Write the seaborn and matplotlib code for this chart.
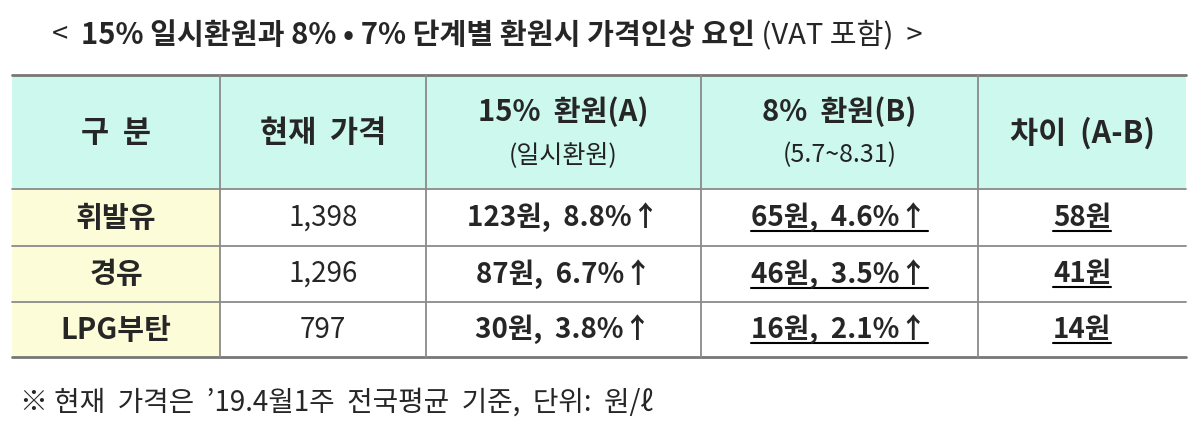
import matplotlib
matplotlib.use("Agg")
import matplotlib.pyplot as plt
import seaborn as sns

sns.set_theme(style="white")
plt.rcParams['font.family'] = ['Noto Sans CJK KR', 'DejaVu Sans']

# data
headers = ["구  분", "현재  가격", "15%  환원(A)", "8%  환원(B)", "차이  (A-B)"]
sub_headers = ["", "", "(일시환원)", "(5.7~8.31)", ""]
fuels = ["휘발유", "경유", "LPG부탄"]
prices = ["1,398", "1,296", "797"]
cut_a = ["123원,  8.8%↑", "87원,  6.7%↑", "30원,  3.8%↑"]
cut_b = ["65원,  4.6%↑", "46원,  3.5%↑", "16원,  2.1%↑"]
diff = ["58원", "41원", "14원"]

W, H = 1199, 433
fig = plt.figure(figsize=(W / 100, H / 100), dpi=100)
ax = fig.add_axes([0, 0, 1, 1])
ax.set_xlim(0, W)
ax.set_ylim(H, 0)
ax.axis("off")

xs = [12, 220, 426, 701, 978, 1186]
ys = [75, 189, 246, 302, 357]
head_bg = "#cdf8ee"
first_bg = "#fdfcd9"
line_c = "#8a8a8a"

ax.fill_between([xs[0], xs[-1]], ys[0], ys[1], color=head_bg, lw=0)
ax.fill_between([xs[0], xs[1]], ys[1], ys[-1], color=first_bg, lw=0)
for y in ys:
    lw = 2 if y in (ys[0], ys[-1]) else 1.3
    ax.plot([xs[0], xs[-1]], [y, y], color=line_c if lw < 2 else "#777777", lw=lw)
for x in xs[1:-1]:
    ax.plot([x, x], [ys[0], ys[-1]], color=line_c, lw=1.3)

fig.canvas.draw()
rend = fig.canvas.get_renderer()


def underline(t):
    bb = t.get_window_extent(rend).transformed(ax.transData.inverted())
    y = max(bb.y0, bb.y1) - 1
    ax.plot([bb.x0, bb.x1], [y, y], color="black", lw=1.5)


# header
for i, h in enumerate(headers):
    cx = (xs[i] + xs[i + 1]) / 2
    if sub_headers[i]:
        ax.text(cx, 112, h, ha="center", va="center", fontsize=21, fontweight="bold")
        ax.text(cx, 155, sub_headers[i], ha="center", va="center", fontsize=18, color="#222222")
    else:
        ax.text(cx, 133, h, ha="center", va="center", fontsize=22, fontweight="bold")

# body
cols = [fuels, prices, cut_a, cut_b, diff]
for r in range(len(fuels)):
    cy = (ys[r + 1] + ys[r + 2]) / 2
    for c, col in enumerate(cols):
        cx = (xs[c] + xs[c + 1]) / 2
        bold = c != 1
        t = ax.text(cx, cy, col[r], ha="center", va="center",
                    fontsize=21 if c == 0 else 20,
                    fontweight="bold" if bold else "normal")
        if c >= 3:
            fig.canvas.draw()
            underline(t)

# title
parts = [("<  ", "normal"), ("15% 일시환원과 8% • 7% 단계별 환원시 가격인상 요인", "bold"), (" (VAT 포함)  >", "normal")]
x = 52
for s, w in parts:
    t = ax.text(x, 35, s, ha="left", va="center", fontsize=21, fontweight=w)
    bb = t.get_window_extent(rend).transformed(ax.transData.inverted())
    x = bb.x1

ax.text(20, 403, "※ 현재  가격은  ’19.4월1주  전국평균  기준,  단위:  원/ℓ", ha="left", va="center",
        fontsize=20)

fig.savefig("out.png", dpi=100)
